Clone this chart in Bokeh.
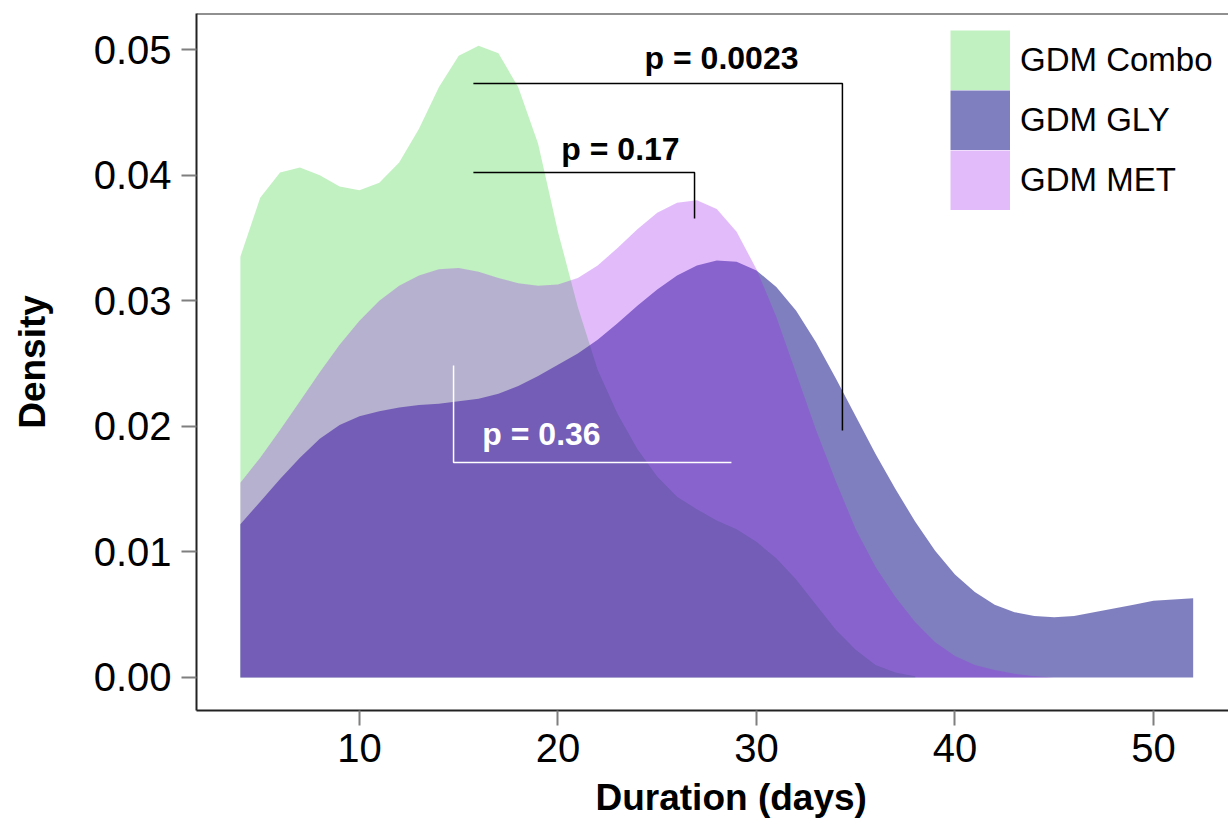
from bokeh.plotting import figure
from bokeh.models import (Range1d, FixedTicker, NumeralTickFormatter, Legend, LegendItem, Span, Title)
from bokeh.core.properties import value
from bokeh.embed import file_html
from bokeh.resources import INLINE

# ---- data ----
x_combo = [4, 5, 6, 7, 8, 9, 10, 11, 12, 13, 14, 15, 16, 17, 18, 19, 20, 21, 22, 23,
           24, 25, 26, 27, 28, 29, 30, 31, 32, 33, 34, 35, 36, 37, 38]
y_combo = [0.0335, 0.0382, 0.0402, 0.0406, 0.0400, 0.0391, 0.0388, 0.0394, 0.0410, 0.0437,
           0.0470, 0.0495, 0.0503, 0.0497, 0.0470, 0.0425, 0.0355, 0.0295, 0.0245, 0.0210,
           0.0182, 0.0160, 0.0144, 0.0134, 0.0125, 0.0118, 0.0108, 0.0095, 0.0078, 0.0058,
           0.0038, 0.0022, 0.0010, 0.0004, 0.0001]

x_gly = list(range(4, 53))
y_gly = [0.0122, 0.0140, 0.0158, 0.0175, 0.0190, 0.0201, 0.0208, 0.0212, 0.0215, 0.0217,
         0.0218, 0.0220, 0.0222, 0.0226, 0.0232, 0.0240, 0.0249, 0.0258, 0.0269, 0.0282,
         0.0296, 0.0309, 0.0320, 0.0328, 0.0332, 0.0331, 0.0324, 0.0311, 0.0292, 0.0267,
         0.0238, 0.0208, 0.0178, 0.0150, 0.0124, 0.0101, 0.0082, 0.0068, 0.0058, 0.0052,
         0.0049, 0.0048, 0.0049, 0.0052, 0.0055, 0.0058, 0.0061, 0.0062, 0.0063]

x_met = list(range(4, 46))
y_met = [0.0155, 0.0175, 0.0197, 0.0220, 0.0243, 0.0265, 0.0284, 0.0300, 0.0312, 0.0320,
         0.0325, 0.0326, 0.0323, 0.0318, 0.0314, 0.0312, 0.0313, 0.0318, 0.0328, 0.0342,
         0.0357, 0.0370, 0.0378, 0.0380, 0.0373, 0.0355, 0.0325, 0.0287, 0.0242, 0.0197,
         0.0156, 0.0118, 0.0088, 0.0064, 0.0044, 0.0028, 0.0017, 0.0010, 0.0006, 0.0003,
         0.0001, 0.0]

series_names = ["GDM Combo", "GDM GLY", "GDM MET"]
series_colors = ["#32CD32", "#000080", "#A020F0"]
series_alpha = [0.3, 0.5, 0.3]
x_ticks = [10, 20, 30, 40, 50]
y_ticks = [0.00, 0.01, 0.02, 0.03, 0.04, 0.05]
x_title = "Duration (days)"
y_title = "Density"

# p-value annotations (data units)
p_labels = ["p = 0.0023", "p = 0.17", "p = 0.36"]
p_label_x = [28.24, 23.15, 19.17]
p_label_y = [0.0493, 0.0421, 0.01935]
bracket1_x = [15.74, 34.33, 34.33]
bracket1_y = [0.0473, 0.0473, 0.01967]
bracket2_x = [15.74, 26.88, 26.88]
bracket2_y = [0.0402, 0.0402, 0.03655]
bracket3_x = [14.74, 14.74, 28.74]
bracket3_y = [0.02484, 0.01712, 0.01712]

FONT = "Liberation Sans"
NAN = float("nan")

p = figure(width=1228, height=829, output_backend="svg", toolbar_location=None,
           x_range=Range1d(1.79, 53.78), y_range=Range1d(-0.00263, 0.05287),
           min_border_left=196, min_border_right=0, min_border_top=13, min_border_bottom=119)
p.xgrid.visible = False
p.ygrid.visible = False
p.outline_line_color = None
p.background_fill_color = "white"

series_x = [x_combo, x_gly, x_met]
series_y = [y_combo, y_gly, y_met]
area_renderers = []
legend_renderers = []
for xs, ys, col, a in zip(series_x, series_y, series_colors, series_alpha):
    area_renderers.append(p.varea(x=xs, y1=[0] * len(xs), y2=ys, fill_color=col, fill_alpha=a))
    # invisible (NaN) line renderer used only as a solid square legend key
    legend_renderers.append(p.line(x=[NAN, NAN], y=[NAN, NAN], line_color=col, line_alpha=a,
                                   line_width=60, line_cap="butt"))

# brackets
p.line(bracket1_x, bracket1_y, line_color="black", line_width=1.5)
p.line(bracket2_x, bracket2_y, line_color="black", line_width=1.5)
p.line(bracket3_x, bracket3_y, line_color="white", line_width=1.5)

p.text(x=p_label_x[:2], y=p_label_y[:2], text=p_labels[:2], text_font=value(FONT),
       text_font_style="bold", text_font_size="32px", text_color="black",
       text_align="center", text_baseline="middle")
p.text(x=p_label_x[2:], y=p_label_y[2:], text=p_labels[2:], text_font=value(FONT),
       text_font_style="bold", text_font_size="32px", text_color="white",
       text_align="center", text_baseline="middle")

# top border
p.add_layout(Span(location=0.05287, dimension="width", line_color="#222222", line_width=2))

# axes
for ax in (p.xaxis[0], p.yaxis[0]):
    ax.axis_line_color = "#222222"
    ax.axis_line_width = 2
    ax.major_tick_line_color = "#7f7f7f"
    ax.major_tick_line_width = 2
    ax.major_tick_out = 15
    ax.major_tick_in = 0
    ax.minor_tick_line_color = None
    ax.major_label_text_font = FONT
    ax.major_label_text_font_size = "40px"
    ax.major_label_text_color = "black"
    ax.axis_label_text_font = FONT
    ax.axis_label_text_font_style = "bold"
    ax.axis_label_text_font_size = "37px"
    ax.axis_label_text_color = "black"

p.xaxis.ticker = FixedTicker(ticks=x_ticks)
p.yaxis.ticker = FixedTicker(ticks=y_ticks)
p.yaxis.formatter = NumeralTickFormatter(format="0.00")
p.yaxis.axis_label = y_title
p.xaxis.major_label_standoff = 8
p.yaxis.major_label_standoff = 10
p.yaxis.axis_label_standoff = 38

# x-axis title as a below-title so it can be offset like the reference
p.add_layout(Title(text=x_title, align="left", offset=399, text_font=FONT,
                   text_font_style="bold", text_font_size="37px", text_color="black",
                   standoff=21), "below")

legend = Legend(items=[LegendItem(label=n, renderers=[r])
                       for n, r in zip(series_names, legend_renderers)],
                location=(754, 500))
legend.background_fill_alpha = 0
legend.border_line_color = None
legend.padding = 0
legend.margin = 0
legend.spacing = 0
legend.glyph_width = 60
legend.glyph_height = 60
legend.label_height = 60
legend.label_standoff = 10
legend.label_text_font = FONT
legend.label_text_font_size = "33px"
legend.label_text_color = "black"
p.add_layout(legend)

open("out.html", "w").write(file_html(p, INLINE))
